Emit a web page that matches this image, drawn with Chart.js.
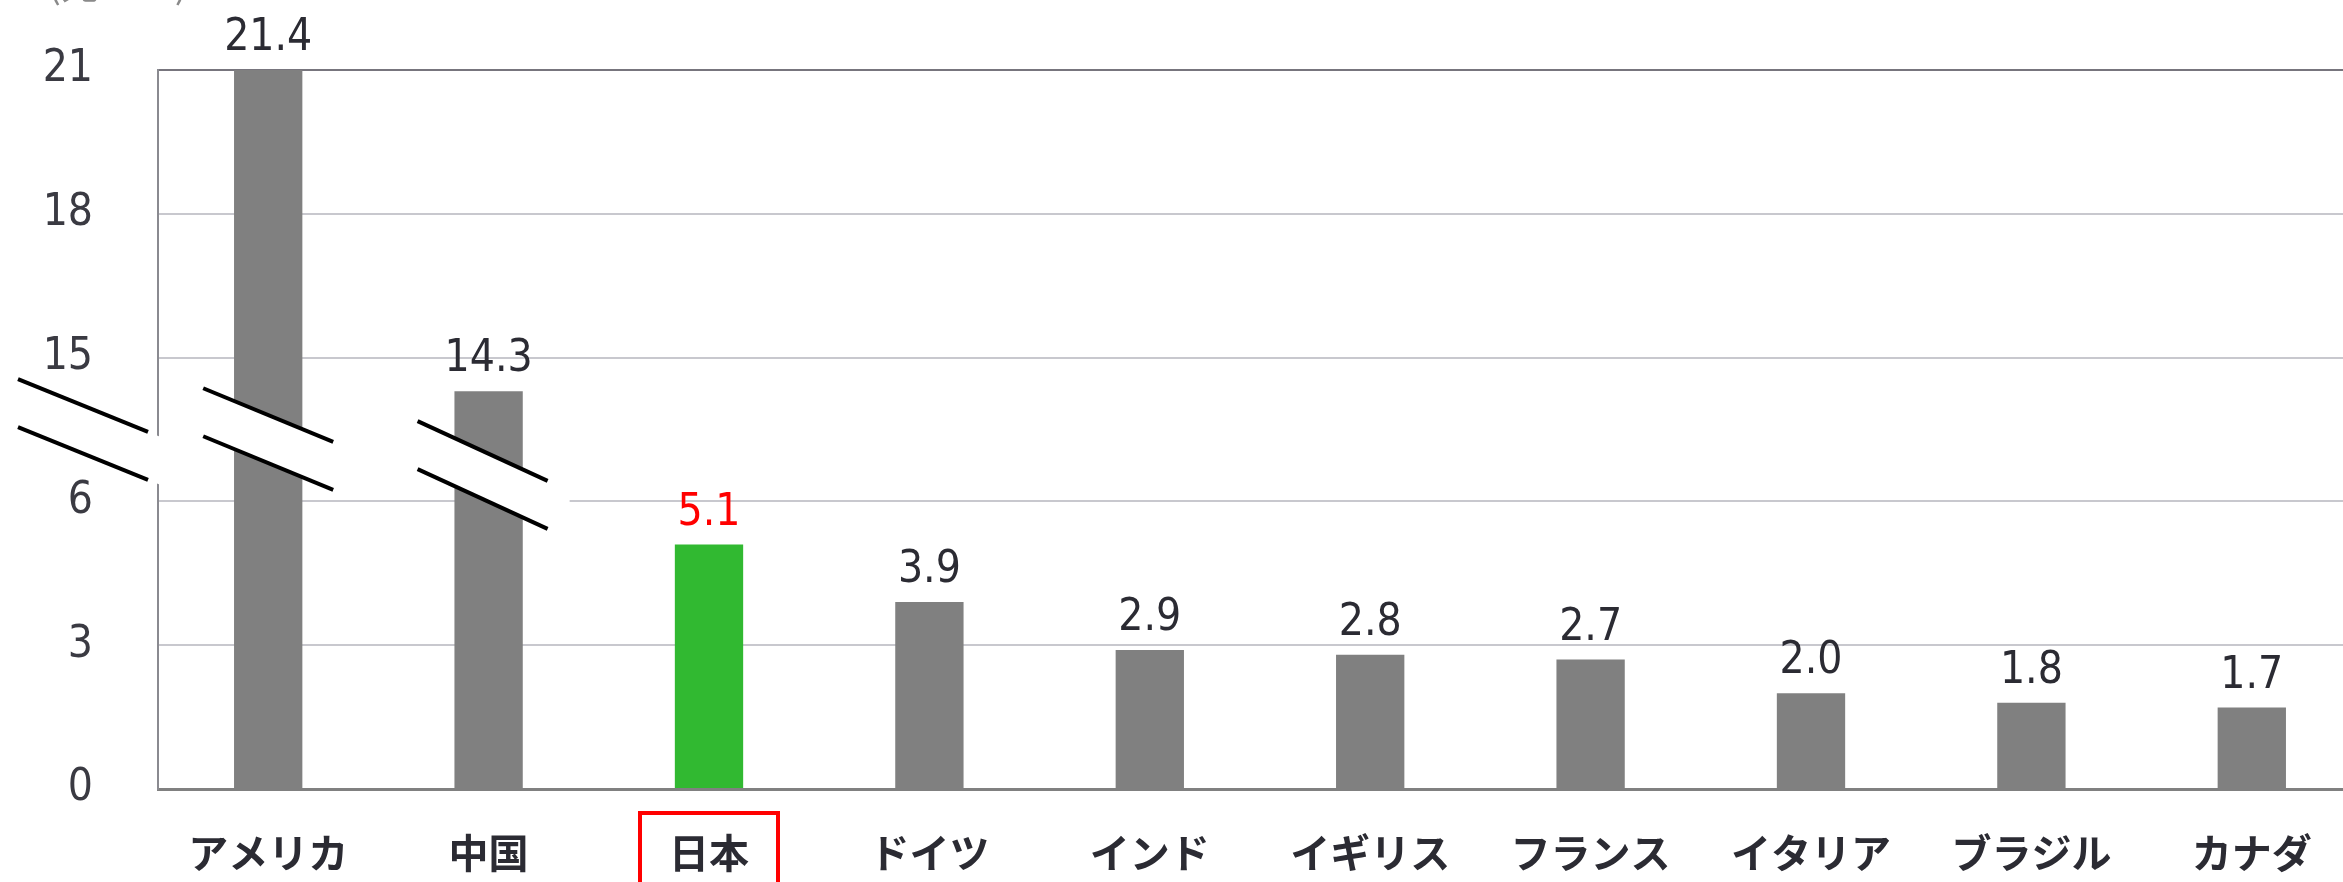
<!DOCTYPE html>
<html lang="ja">
<head>
<meta charset="utf-8">
<title>GDP</title>
<script src="https://cdn.jsdelivr.net/npm/chart.js@4.4.1/dist/chart.umd.min.js"></script>
<style>
  html, body { margin: 0; padding: 0; background: #fff; overflow: hidden; }
  #wrap { position: relative; width: 2362px; height: 882px; }
</style>
</head>
<body>
<div id="wrap"><canvas id="myChart"></canvas></div>
<script>
const countries = ["アメリカ", "中国", "日本", "ドイツ", "インド", "イギリス", "フランス", "イタリア", "ブラジル", "カナダ"];
const gdp = [21.4, 14.3, 5.1, 3.9, 2.9, 2.8, 2.7, 2.0, 1.8, 1.7];
const tickValues = [0, 3, 6, 15, 18, 21];
const highlight = "日本";
const unitLabel = "(兆ドル)";

// broken axis: 0-7 is drawn as is, everything from 13 up is shifted down by 6
const breakLow = 7;
const breakHigh = 13;

// where the "//" marks go: next to the axis, then over the first two bars
const breakMarks = [
  { index: null, dx: -75, at: 7.5, slope: 0.405 },
  { index: 0, dx: 0, at: 7.3, slope: 0.413 },
  { index: 1, dx: -6, at: 6.55, slope: 0.46 },
];

const numFont = '"Liberation Sans Narrow", "DejaVu Sans Condensed", "Liberation Sans", sans-serif';
const jpFont = '"Noto Sans CJK JP", sans-serif';
const textColor = "#2b2b33";

function toAxis(v) {
  if (v <= breakLow) return v;
  if (v >= breakHigh) return v - (breakHigh - breakLow);
  return breakLow;
}

const axisBreaks = {
  id: "axisBreaks",
  afterDatasetsDraw(chart) {
    const { ctx, chartArea, scales } = chart;
    const meta = chart.getDatasetMeta(0);
    const hw = 65;
    const gap = 24;
    const pad = 22;
    breakMarks.forEach((m) => {
      const cx = (m.index === null ? chartArea.left : meta.data[m.index].x) + m.dx;
      const cy = scales.y.getPixelForValue(m.at);
      const rise = hw * m.slope;
      const py = pad * m.slope;
      ctx.save();
      // white band between the strokes hides axis, grid and bar
      ctx.fillStyle = "#fff";
      ctx.beginPath();
      ctx.moveTo(cx - hw - pad, cy - gap - rise - py);
      ctx.lineTo(cx + hw + pad, cy - gap + rise + py);
      ctx.lineTo(cx + hw + pad, cy + gap + rise + py);
      ctx.lineTo(cx - hw - pad, cy + gap - rise - py);
      ctx.closePath();
      ctx.fill();
      ctx.strokeStyle = "#000";
      ctx.lineWidth = 4;
      [-gap, gap].forEach((off) => {
        ctx.beginPath();
        ctx.moveTo(cx - hw, cy + off - rise);
        ctx.lineTo(cx + hw, cy + off + rise);
        ctx.stroke();
      });
      ctx.restore();
    });
  },
};

const valueLabels = {
  id: "valueLabels",
  afterDatasetsDraw(chart) {
    const { ctx, chartArea } = chart;
    const meta = chart.getDatasetMeta(0);
    ctx.save();
    ctx.font = "44px " + numFont;
    ctx.textAlign = "center";
    ctx.textBaseline = "alphabetic";
    meta.data.forEach((bar, i) => {
      ctx.fillStyle = countries[i] === highlight ? "#ff0000" : textColor;
      const top = Math.max(bar.y, chartArea.top);
      ctx.fillText(gdp[i].toFixed(1), bar.x, top - 20);
    });
    ctx.restore();
  },
};

const extras = {
  id: "extras",
  afterDraw(chart) {
    const { ctx, scales } = chart;
    const cx = scales.x.getPixelForValue(countries.indexOf(highlight));
    ctx.save();
    ctx.strokeStyle = "#ff0000";
    ctx.lineWidth = 4;
    ctx.strokeRect(cx - 69, scales.x.top + 24, 138, 80);

    ctx.fillStyle = "#8a8a8a";
    ctx.font = "38px " + jpFont;
    ctx.textAlign = "left";
    ctx.textBaseline = "alphabetic";
    ctx.fillText(unitLabel, 48, -2);
    ctx.restore();
  },
};

const ctx = document.getElementById("myChart").getContext("2d");
const myChart = new Chart(ctx, {
  type: "bar",
  data: {
    labels: countries,
    datasets: [
      {
        data: gdp.map(toAxis),
        backgroundColor: countries.map((c) => (c === highlight ? "#31b931" : "#808080")),
        barPercentage: 0.31,
        categoryPercentage: 1,
      },
    ],
  },
  options: {
    responsive: true,
    maintainAspectRatio: false,
    animation: false,
    layout: { padding: { top: 70, left: 0, right: 0, bottom: 0 } },
    plugins: {
      legend: { display: false },
      tooltip: { enabled: false },
    },
    scales: {
      x: {
        grid: { display: false, drawTicks: false },
        border: { color: "#808080", width: 3 },
        ticks: {
          color: textColor,
          padding: 40,
          font: { family: jpFont, size: 40, weight: "bold" },
        },
        afterFit(scale) {
          scale.height = 93;
        },
      },
      y: {
        min: 0,
        max: toAxis(tickValues[tickValues.length - 1]),
        afterBuildTicks(scale) {
          scale.ticks = tickValues.map((v) => ({ value: toAxis(v) }));
        },
        ticks: {
          color: "#3a3a42",
          padding: 65,
          font: { family: numFont, size: 44 },
          callback: (value) => {
            const t = tickValues.find((v) => toAxis(v) === value);
            return t === undefined ? "" : String(t);
          },
        },
        grid: {
          drawTicks: false,
          lineWidth: 2,
          color: (c) => (c.tick && c.tick.value === toAxis(21) ? "#77757d" : "#c8c8ce"),
        },
        border: { color: "#8a8a90", width: 2 },
        afterFit(scale) {
          // the label padding should only push labels sideways, not shrink the plot
          scale.width = 158;
          scale.paddingTop = 0;
          scale.paddingBottom = 0;
        },
      },
    },
  },
  plugins: [axisBreaks, valueLabels, extras],
});
</script>
</body>
</html>
